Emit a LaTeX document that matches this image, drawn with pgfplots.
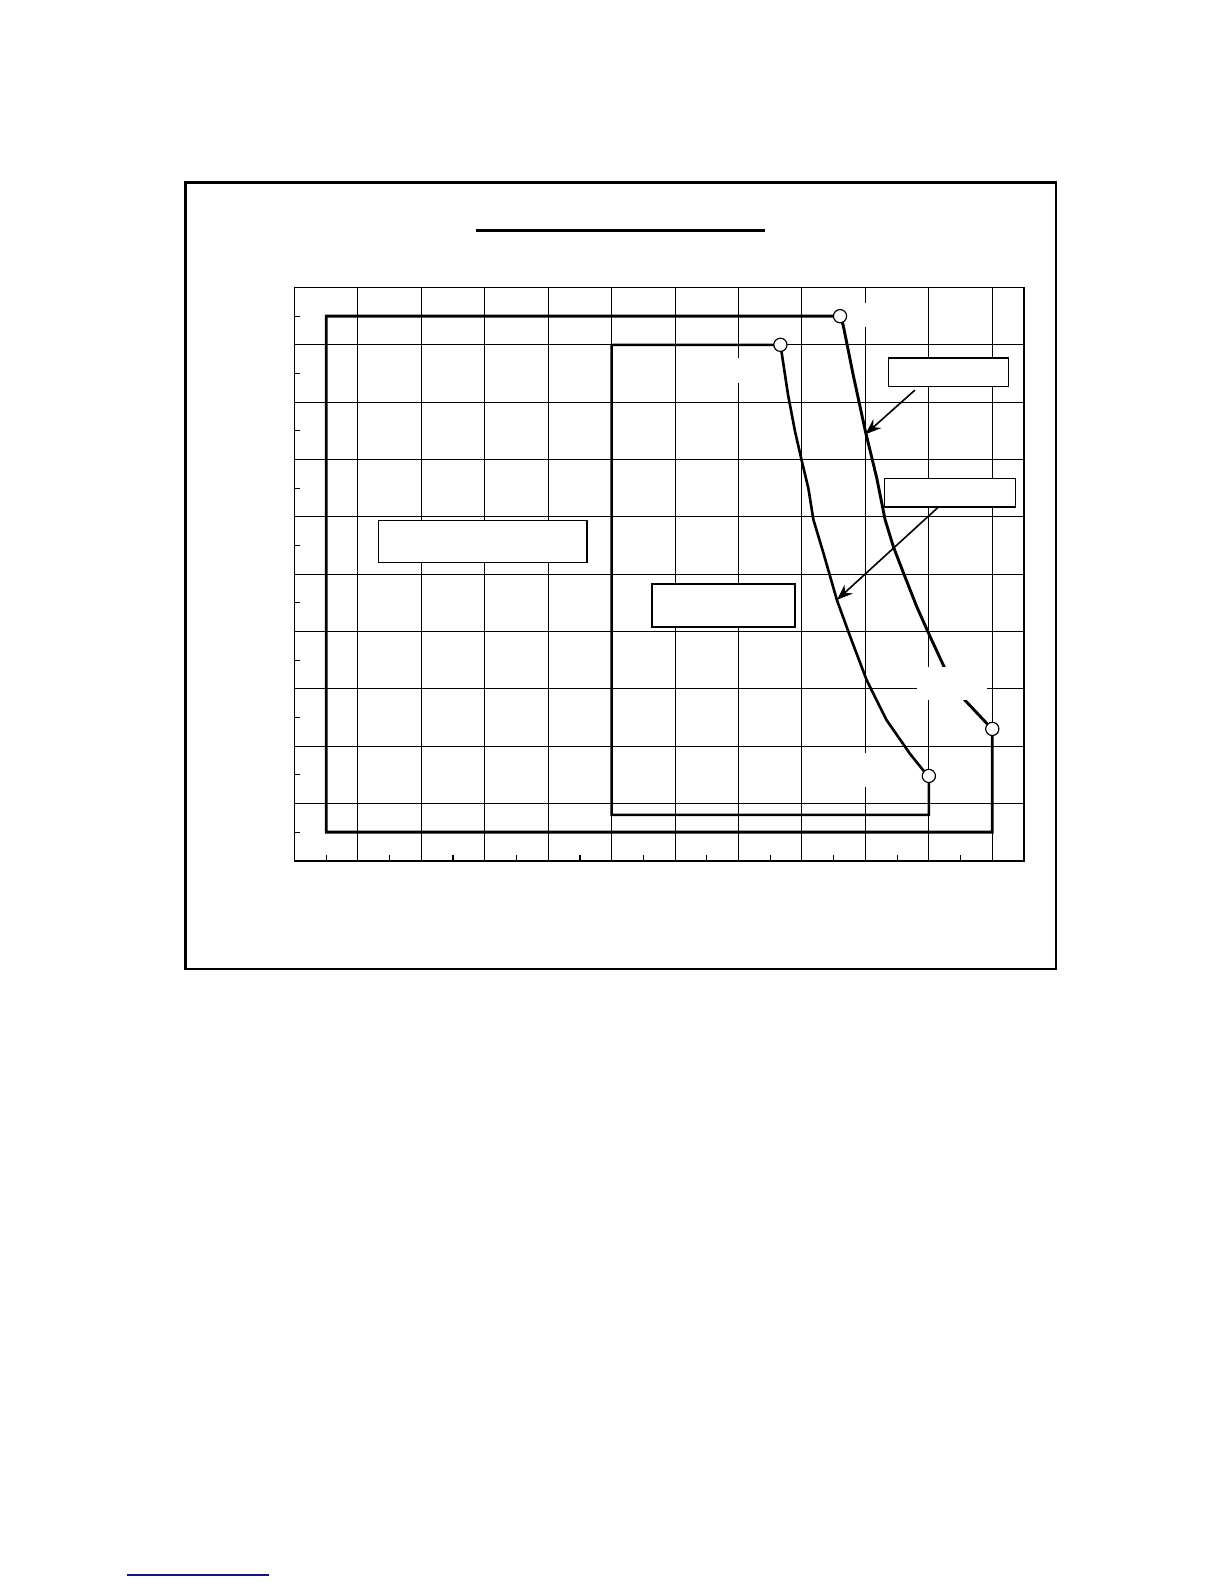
\documentclass[border=0pt]{standalone}
\usepackage{pgfplots}
\pgfplotsset{compat=1.18}
\usetikzlibrary{arrows.meta}

\begin{document}
\begin{tikzpicture}[x=1pt,y=1pt]
  % page: 612pt x 792pt, 1 px of the reference = 0.5pt
  \useasboundingbox (0,0) rectangle (612,792);
  % outer frame and the (empty) title rule
  \draw[line width=1.2pt] (92.75,307.5) rectangle (528,700.65);
  \draw[line width=1.3pt] (237.9,676.65) -- (382.45,676.65);
  % footnote rule at the foot of the page
  \draw[color={rgb,255:red,20;green,20;blue,130}, line width=0.8pt] (63.65,4.35) -- (134.5,4.35);

  \begin{axis}[
      at={(147.25pt,361.6pt)}, anchor=south west,
      scale only axis, width=364.75pt, height=286.65pt,
      xmin=0, xmax=11.5, ymin=0, ymax=10,
      xtick={0.5,1.5,...,10.5}, ytick={0.5,1.5,...,9.5},
      minor xtick={1,...,11}, minor ytick={1,...,9},
      xticklabels={}, yticklabels={},
      grid=minor,
      minor grid style={black, line width=0.5pt},
      major tick length=2.8pt, minor tick length=0pt,
      tick align=inside, tick pos=left,
      tick style={black, line width=0.6pt},
      axis line style={line width=0.9pt},
      clip=false,
    ]
    % outer envelope
    \addplot[black, line width=1.45pt, line join=miter] coordinates {
      (3,0.5) (0.5,0.5) (0.5,9.5) (8.6,9.5) (8.65,9.34) (8.81,8.46) (9.0,7.49)
      (9.18,6.67) (9.31,5.95) (9.44,5.48) (9.6,5.02) (9.81,4.43) (10.02,3.91)
      (10.25,3.36) (10.57,2.80) (10.91,2.40) (11.0,2.30) (11.0,0.5) (3,0.5)};
    % inner envelope
    \addplot[black, line width=1.3pt, line join=miter] coordinates {
      (7,0.8) (5,0.8) (5,9) (7.66,9.0) (7.68,8.86) (7.78,8.13) (7.89,7.49)
      (8.0,6.96) (8.10,6.50) (8.18,5.95) (8.34,5.36) (8.55,4.55) (8.76,3.91)
      (9.02,3.15) (9.33,2.46) (9.70,1.87) (9.91,1.58) (10.0,1.48) (10.0,0.8) (7,0.8)};

    % label boxes (text removed)
    \draw[line width=0.6pt, fill=white] (axis cs:9.36,8.27) rectangle (axis cs:11.26,8.77);
    \draw[line width=0.6pt, fill=white] (axis cs:9.30,6.17) rectangle (axis cs:11.36,6.67);
    \draw[line width=0.6pt, fill=white] (axis cs:1.33,5.20) rectangle (axis cs:4.61,5.94);
    \draw[line width=1pt, fill=white] (axis cs:5.63,4.08) rectangle (axis cs:7.89,4.83);
    \draw[line width=0.8pt, -{Stealth[length=8pt,width=6pt]}] (axis cs:9.78,8.21) -- (axis cs:9.0,7.44);
    \draw[line width=0.8pt, -{Stealth[length=8pt,width=6pt]}] (axis cs:10.16,6.18) -- (axis cs:8.55,4.55);

    % blank label backgrounds
    \fill[white] (axis cs:9.81,2.80) rectangle (axis cs:10.91,3.38);
    \fill[white] (axis cs:6.9,8.33) rectangle (axis cs:7.1,8.77);
    \fill[white] (axis cs:8.9,9.31) rectangle (axis cs:9.1,9.73);
    \fill[white] (axis cs:8.9,1.29) rectangle (axis cs:9.1,1.88);

    % end points
    \addplot[only marks, mark=*, mark size=3.3pt,
      mark options={fill=white, draw=black, line width=0.6pt}] coordinates {
      (8.6,9.5) (7.66,9.0) (11.0,2.30) (10.0,1.48)};
  \end{axis}
\end{tikzpicture}
\end{document}
